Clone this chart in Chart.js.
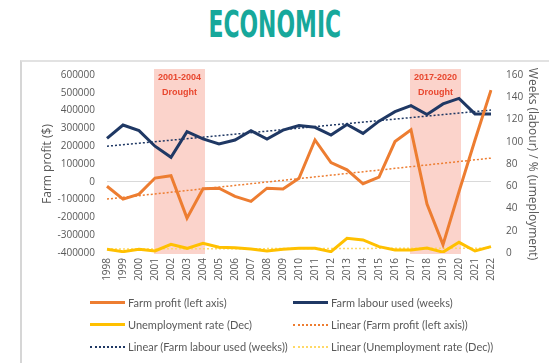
<!DOCTYPE html>
<html>
<head>
<meta charset="utf-8">
<script src="https://cdn.jsdelivr.net/npm/chart.js@4.4.1/dist/chart.umd.min.js"></script>
<style>
  html, body { margin: 0; padding: 0; background: #fff; }
  #wrap { position: relative; width: 549px; height: 363px; overflow: hidden; }
  #frame { position: absolute; left: 20px; top: 60px; width: 560px; height: 320px;
           border-top: 2px solid #e2e2e2; border-left: 2px solid #d6d6d6; }
  #title { position: absolute; top: 6px; left: 0; width: 549px; text-align: center; }
  #title span { display: inline-block; font-family: 'Liberation Sans Narrow', 'DejaVu Sans Condensed', sans-serif;
                font-weight: bold; font-size: 37px; line-height: 1; color: #17a89b; }
  #chart { position: absolute; left: 0; top: 0; }
  #legend { position: absolute; left: 90px; top: 294px; display: grid;
            grid-template-columns: 203px 230px; row-gap: 5px;
            font-family: Lato, 'Open Sans', sans-serif; font-size: 11px; color: #595959; }
  .item { display: flex; align-items: center; height: 17px; white-space: nowrap; }
  .swatch { width: 35px; margin-right: 3px; }
</style>
</head>
<body>
<div id="wrap">
  <div id="frame"></div>
  <div id="title"><span>ECONOMIC</span></div>
  <canvas id="chart" width="549" height="363"></canvas>
  <div id="legend"></div>
</div>
<script>
const years = ['1998','1999','2000','2001','2002','2003','2004','2005','2006','2007','2008','2009',
  '2010','2011','2012','2013','2014','2015','2016','2017','2018','2019','2020','2021','2022'];

// farm profit in dollars (left axis)
const farmProfit = [-25000, -97000, -69000, 21000, 34000, -204000, -39000, -36000, -82000, -110000,
  -36000, -40000, 20000, 235000, 108000, 67000, -11000, 26000, 226000, 292000,
  -125000, -353000, -55000, 235000, 515000];

// farm labour used in weeks (right axis)
const farmLabour = [103, 115, 110, 96, 86, 109, 102.5, 98, 101.5, 110, 102.5, 110.5,
  114.5, 113, 106, 115.5, 107.5, 118.5, 127, 132.5, 124.5, 134, 139, 125, 125];

// unemployment rate in December, % (right axis)
const unemployment = [3.3, 1.2, 3.3, 1.8, 7.8, 4.2, 8.7, 5.1, 4.8, 3.6, 1.8, 3.3,
  4.2, 4.2, 1.2, 13.2, 11.7, 5.7, 2.7, 2.7, 4.5, 0.8, 9.6, 1.8, 5.7];

// linear trend end points (1998, 2022)
const profitTrend = [-97000, 133000];
const labourTrend = [96, 128.5];
const unemploymentTrend = [3.6, 4.4];

// drought periods
const droughtStart = ['2001', '2017'];
const droughtEnd = ['2004', '2020'];
const droughtLabels = ['2001-2004', '2017-2020'];

const textColor = '#595959';
const orange = '#ed7d31';
const navy = '#1f3864';
const yellow = '#ffc000';

function trendSeries(ends) {
  const out = years.map(() => null);
  out[0] = ends[0];
  out[out.length - 1] = ends[1];
  return out;
}

const droughtBands = {
  id: 'droughtBands',
  beforeDatasetsDraw(chart) {
    const { ctx, chartArea, scales: { x } } = chart;
    ctx.save();
    droughtStart.forEach((s, i) => {
      const x0 = x.getPixelForValue(years.indexOf(s)) - 1;
      const x1 = x.getPixelForValue(years.indexOf(droughtEnd[i])) + 2;
      const top = chartArea.top - 6;
      ctx.fillStyle = '#fbd3cb';
      ctx.fillRect(x0, top, x1 - x0, chartArea.bottom + 1 - top);
      ctx.fillStyle = '#e8472f';
      ctx.font = 'bold 9px "Liberation Sans", sans-serif';
      ctx.textAlign = 'center';
      ctx.textBaseline = 'middle';
      const cx = (x0 + x1) / 2;
      ctx.fillText(droughtLabels[i], cx, top + 9);
      ctx.fillText('Drought', cx, top + 24);
    });
    ctx.restore();
  }
};

Chart.defaults.font.family = "'Open Sans', 'Liberation Sans', sans-serif";
Chart.defaults.color = textColor;

const chart = new Chart(document.getElementById('chart'), {
  type: 'line',
  data: {
    labels: years,
    datasets: [
      { label: 'Farm profit (left axis)', data: farmProfit, yAxisID: 'y',
        borderColor: orange, borderWidth: 3, pointRadius: 0 },
      { label: 'Farm labour used (weeks)', data: farmLabour, yAxisID: 'y1',
        borderColor: navy, borderWidth: 3, pointRadius: 0 },
      { label: 'Unemployment rate (Dec)', data: unemployment, yAxisID: 'y1',
        borderColor: yellow, borderWidth: 3, pointRadius: 0 },
      { label: 'Linear (Farm profit (left axis))', data: trendSeries(profitTrend), yAxisID: 'y',
        borderColor: orange, borderWidth: 1.5, borderDash: [2, 2], pointRadius: 0, spanGaps: true },
      { label: 'Linear (Farm labour used (weeks))', data: trendSeries(labourTrend), yAxisID: 'y1',
        borderColor: navy, borderWidth: 1.5, borderDash: [2, 2], pointRadius: 0, spanGaps: true },
      { label: 'Linear (Unemployment rate (Dec))', data: trendSeries(unemploymentTrend), yAxisID: 'y1',
        borderColor: '#ffd966', borderWidth: 1.5, borderDash: [2, 2], pointRadius: 0, spanGaps: true }
    ]
  },
  options: {
    responsive: false,
    animation: false,
    layout: { padding: { left: 36, right: 5, top: 75, bottom: 70 } },
    plugins: {
      legend: { display: false },
      tooltip: { enabled: false }
    },
    scales: {
      x: {
        grid: { display: false, drawTicks: false },
        border: { display: false },
        ticks: { minRotation: 90, maxRotation: 90, autoSkip: false, padding: 5, font: { size: 10 } },
        afterFit: s => { s.height = 40; }
      },
      y: {
        position: 'left', min: -400000, max: 600000,
        ticks: { stepSize: 100000, padding: 12, font: { size: 10 }, callback: v => String(v) },
        grid: { drawTicks: false, color: c => c.tick.value === 0 ? '#d9d9d9' : 'transparent' },
        border: { display: false },
        title: { display: true, text: 'Farm profit ($)', font: { size: 12 } },
        afterFit: s => { s.width = 71; }
      },
      y1: {
        position: 'right', min: 0, max: 160,
        ticks: { stepSize: 20, padding: 15, font: { size: 10 }, callback: v => String(v) },
        grid: { display: false, drawTicks: false },
        border: { display: false },
        title: { display: true, text: 'Weeks (labour) / % (umeployment)', font: { size: 12 } },
        afterFit: s => { s.width = 53; }
      }
    }
  },
  plugins: [droughtBands]
});

// two-column legend built from the datasets
const legend = document.getElementById('legend');
chart.data.datasets.forEach(ds => {
  const item = document.createElement('div');
  item.className = 'item';
  const sw = document.createElement('span');
  sw.className = 'swatch';
  if (ds.borderDash) {
    sw.style.borderTop = '2px dotted ' + ds.borderColor;
  } else {
    sw.style.height = '3px';
    sw.style.background = ds.borderColor;
  }
  item.appendChild(sw);
  item.appendChild(document.createTextNode(ds.label));
  legend.appendChild(item);
});

// squeeze the title to its condensed width
const t = document.querySelector('#title span');
t.style.transform = 'scaleX(' + (133 / t.offsetWidth) + ')';
</script>
</body>
</html>
